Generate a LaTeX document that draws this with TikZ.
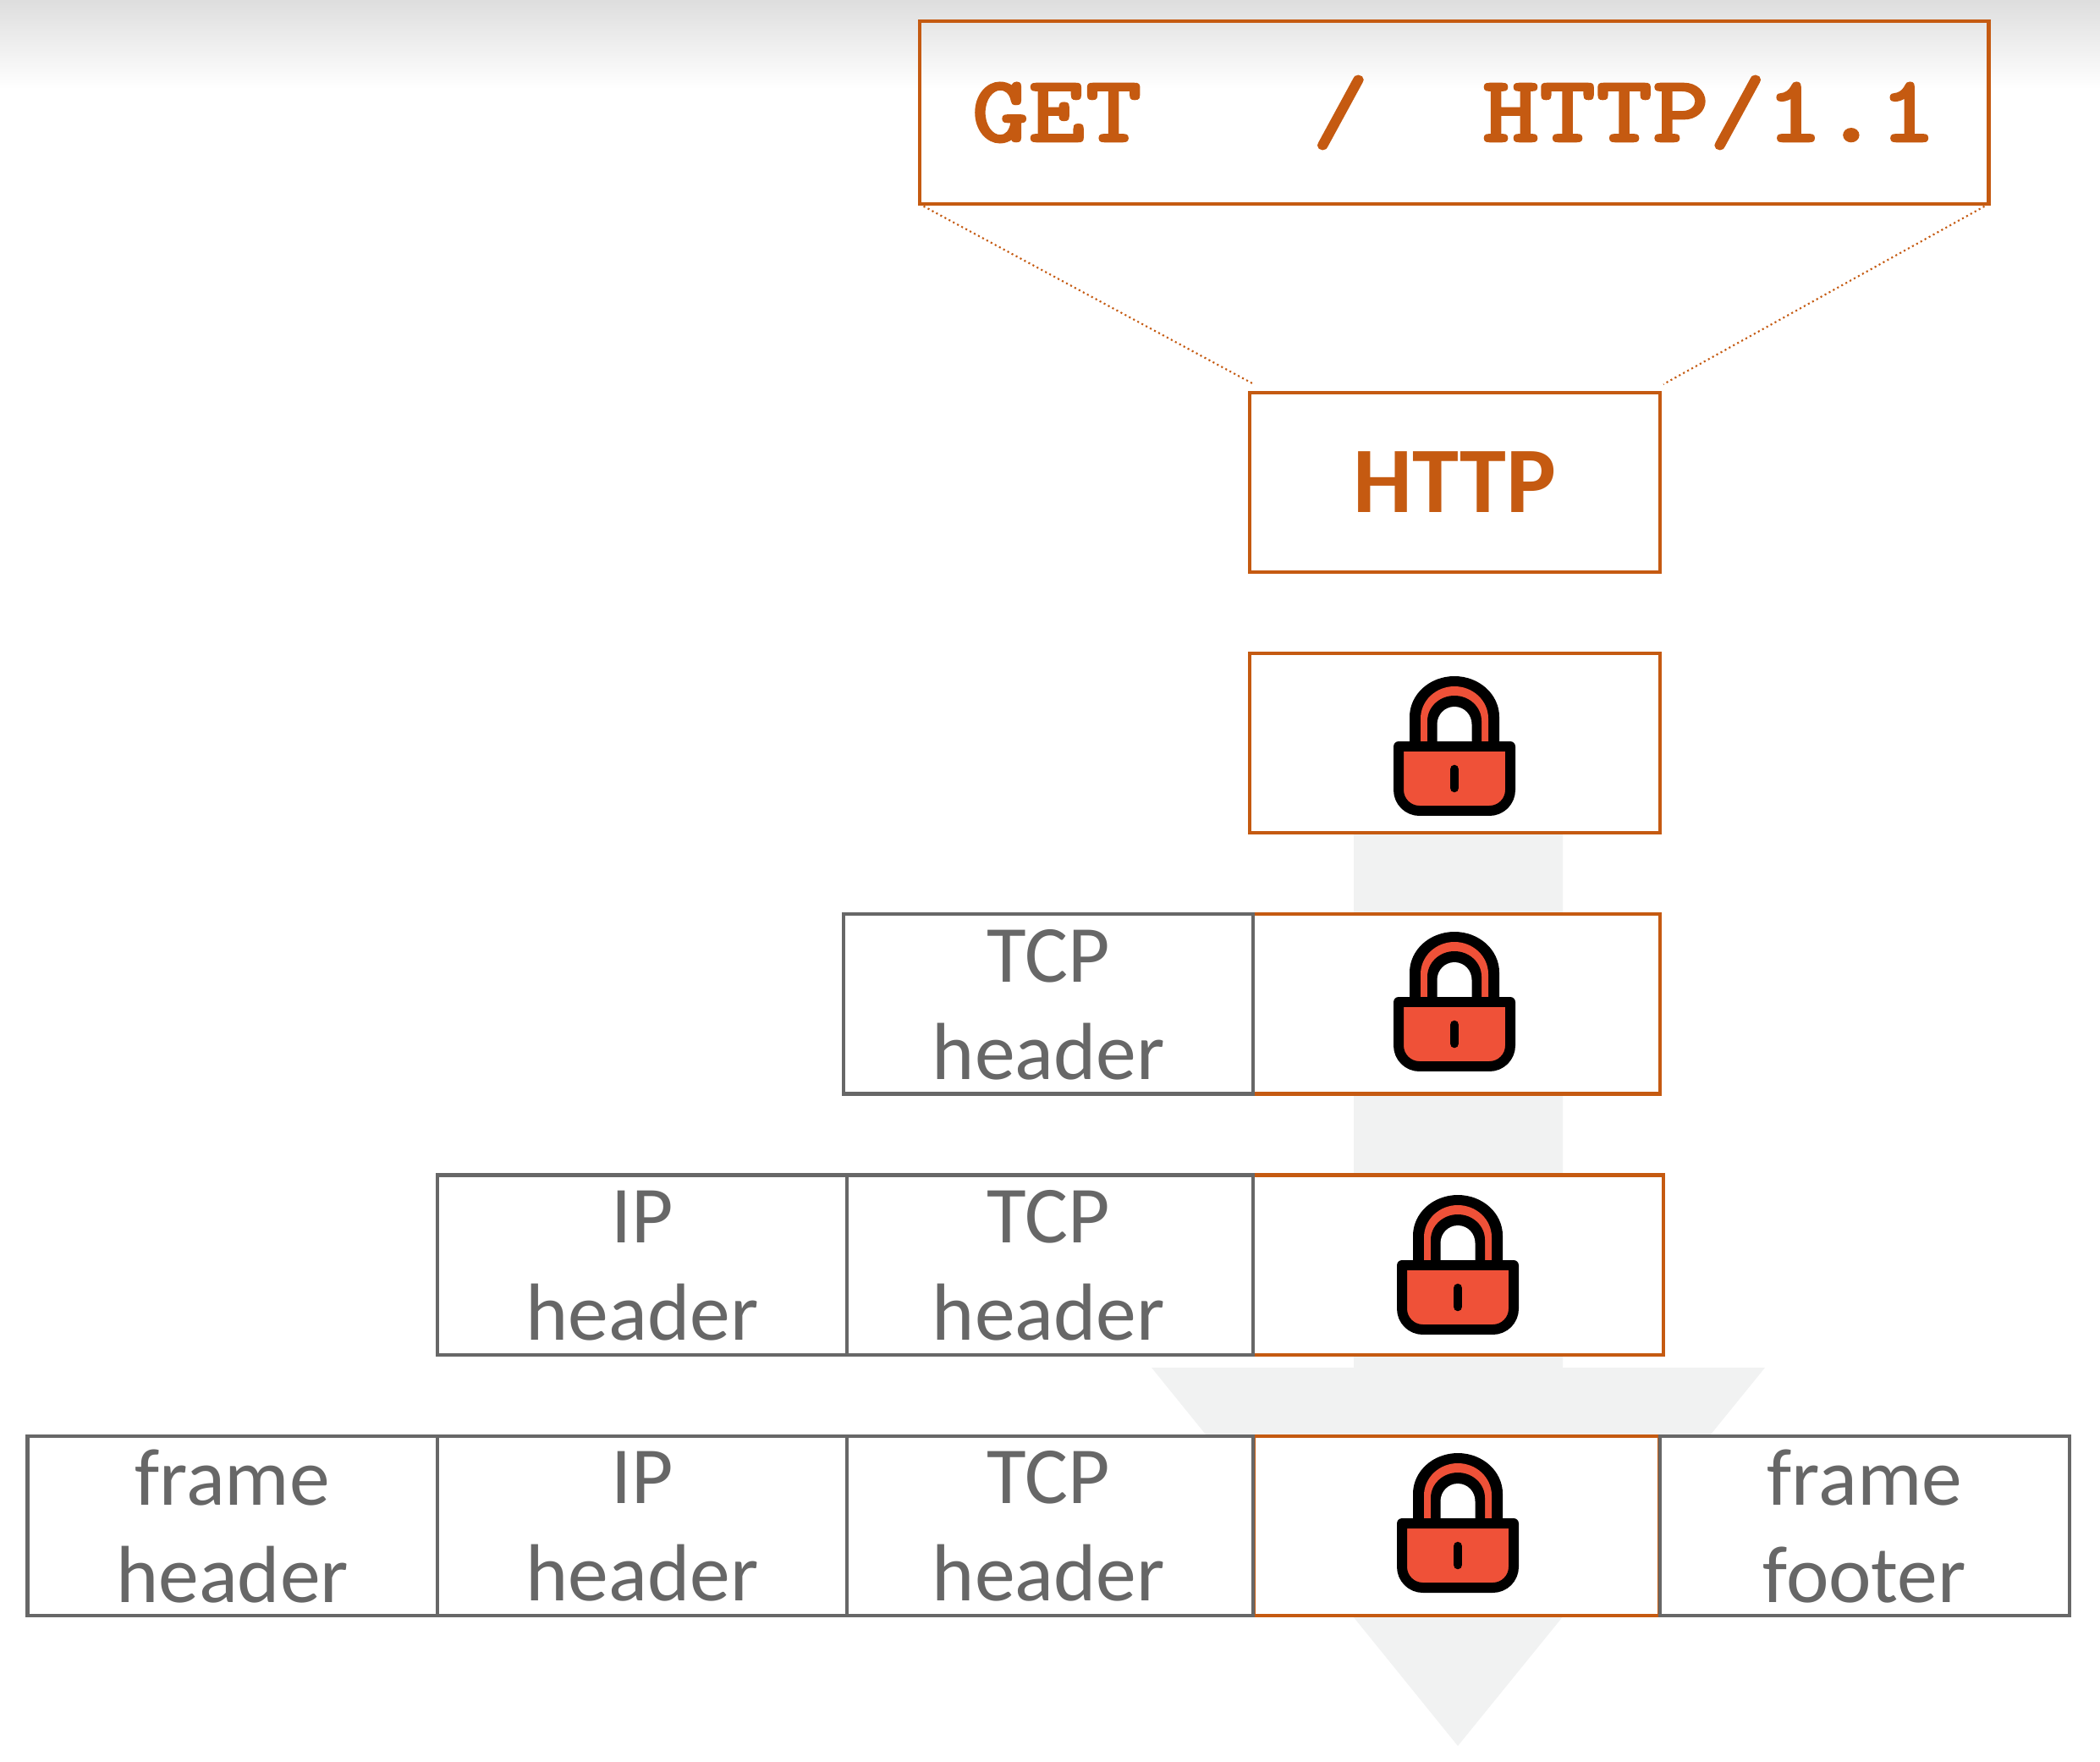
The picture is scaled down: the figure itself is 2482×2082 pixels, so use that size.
\documentclass[tikz,border=0pt]{standalone}
\usepackage{fontspec}
\usepackage{xcolor}
\setmainfont{Carlito}
\newfontfamily\getfont{Latin Modern Mono Light}[FakeStretch=1.135, FakeBold=1.6]
\definecolor{rust}{HTML}{C55A11}
\definecolor{slate}{HTML}{676767}
\definecolor{haze}{HTML}{F1F2F2}
\definecolor{lockred}{HTML}{EF5138}
\tikzset{
    orangebox/.style={draw=rust, rectangle, line width=1.2pt, fill=white, outer sep=0pt, minimum width=4.84cm, minimum height=2.12cm},
    cell/.style={draw=slate, rectangle, line width=1.2pt, fill=white, outer sep=0pt, minimum width=4.84cm, minimum height=2.12cm},
    celltext/.style={align=center, text=slate, font=\fontsize{27.2}{32.7}\selectfont, yshift=-0.01cm},
    padlock/.pic={
        % shackle
        \fill[black] (-53,80) -- (-53,48) arc[start angle=180, end angle=360, x radius=53, y radius=48] -- (53,80) -- cycle;
        \fill[lockred] (-40,80) -- (-40,50) arc[start angle=180, end angle=360, x radius=40, y radius=38] -- (40,80) -- cycle;
        \fill[black] (-32,80) -- (-32,53) arc[start angle=180, end angle=360, x radius=32, y radius=30] -- (32,80) -- cycle;
        \fill[white] (-20.5,80) -- (-20.5,57) arc[start angle=180, end angle=360, x radius=20.5, y radius=21] -- (20.5,80) -- cycle;
        % body
        \draw[black, fill=lockred, line width=3.4pt, line join=round] (66,83) [rounded corners=7pt] -- (66,159) -- (-66,159) [sharp corners] -- (-66,83) -- cycle;
        % keyhole
        \draw[black, line width=3pt, line cap=round] (0,110) -- (0,132);
    }
}
\begin{document}
\begin{tikzpicture}[x=0.01cm, y=-0.01cm, node distance=3.08cm]
        \useasboundingbox (0,0) rectangle (2482,2082);
        % Backdrop
        \shade[top color=black!13, bottom color=white] (0,0) rectangle (2482,105);
        \fill[haze] (1600,985) -- (1847,985) -- (1847,1616) -- (2086,1616) -- (1723,2063) -- (1361,1616) -- (1600,1616) -- cycle;

        % Nodes
        \node (request) [draw=rust, rectangle, line width=1.2pt, outer sep=0pt, minimum width=12.63cm, minimum height=2.16cm, text=rust, font=\getfont\bfseries\fontsize{32}{36}\selectfont] at (1718.5,133) {\raisebox{0.8pt}{GET\ \ \ /\ \ HTTP/1.1}};
        \node (http) [orangebox, text=rust, font=\bfseries\fontsize{31.5}{36}\selectfont] at (1719.5,570) {HTTP};
        \node (sealed) [orangebox, below of=http] {};
        \node (sealedA) [orangebox, below of=sealed] {};
        \node (sealedB) [orangebox, below of=sealedA, xshift=0.04cm] {};
        \node (sealedC) [orangebox, below of=sealedB, xshift=-0.02cm, minimum width=4.79cm] {};

        \node (tcpA) [cell, left of=sealedA, node distance=4.8cm, label={[celltext]center:TCP\\header}] {};
        \node (tcpB) [cell, left of=sealedB, node distance=4.84cm, label={[celltext]center:TCP\\header}] {};
        \node (ipB) [cell, left of=tcpB, node distance=4.8cm, label={[celltext]center:IP\\header}] {};
        \node (tcpC) [cell, left of=sealedC, node distance=4.82cm, label={[celltext]center:TCP\\header}] {};
        \node (ipC) [cell, left of=tcpC, node distance=4.8cm, label={[celltext]center:IP\\header}] {};
        \node (frameC) [cell, left of=ipC, node distance=4.84cm, label={[celltext]center:frame\\header}] {};
        \node (footerC) [cell, right of=sealedC, node distance=4.82cm, label={[celltext]center:frame\\footer}] {};

        \coordinate (zoomL) at (1482,454);
        \coordinate (zoomR) at (1966,454);

        % Locks
        \pic at (1719,799) {padlock};
        \pic at (1719,1101) {padlock};
        \pic at (1723,1412) {padlock};
        \pic at (1723,1717) {padlock};

        % Arrows
        \draw[rust, line width=0.6pt, densely dotted] (request.south west) -- (zoomL);
        \draw[rust, line width=0.6pt, densely dotted] (request.south east) -- (zoomR);
    \end{tikzpicture}
\end{document}
